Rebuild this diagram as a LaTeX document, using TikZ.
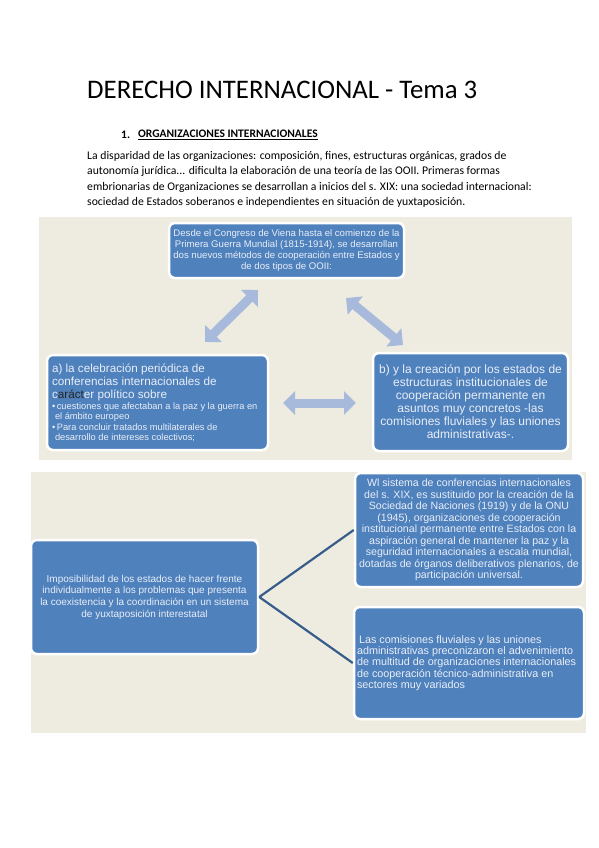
\documentclass[tikz,border=0pt]{standalone}
\usepackage{fontspec}
\setmainfont{Carlito}
\newfontfamily\boxfont{Liberation Sans}
\usepackage{tikz}
\usetikzlibrary{arrows.meta, positioning, calc}
\usepackage{xcolor}
\definecolor{panelbg}{RGB}{238,236,225}
\definecolor{boxblue}{RGB}{79,129,189}
\definecolor{boxtext}{RGB}{233,238,247}
\definecolor{arrowblue}{RGB}{167,186,219}
\definecolor{linkblue}{RGB}{56,93,138}

\tikzset{
  bluebox/.style={fill=boxblue, draw=white, line width=2.5pt, rounded corners=6pt,
    text=boxtext, inner sep=3pt},
  dblarrow/.style={draw=arrowblue, line width=9pt,
    {Triangle[length=12pt,width=23pt]}-{Triangle[length=12pt,width=23pt]}},
  vline/.style={draw=linkblue, line width=2.2pt}
}

\begin{document}
\begin{tikzpicture}[x=1pt, y=-1pt]
  \useasboundingbox (0,0) rectangle (599,848);
  \fill[white] (0,0) rectangle (599,848);

  % page text
  \node[anchor=west, inner sep=0, font=\fontsize{26.8}{31}\selectfont] (title) at (87,90)
    {DERECHO INTERNACIONAL - Tema 3};
  \node[anchor=west, inner sep=0, font=\fontsize{11.5}{14}\selectfont\bfseries] (num) at (121,135)
    {1.};
  \node[anchor=west, inner sep=0, font=\fontsize{11.5}{14}\selectfont\bfseries] (heading) at (138,135)
    {\underline{ORGANIZACIONES INTERNACIONALES}};
  \node[anchor=north west, inner sep=0, align=left, font=\fontsize{11.7}{15.5}\selectfont] (intro) at (87,151)
    {La disparidad de las organizaciones: composición, fines, estructuras orgánicas, grados de\\
     autonomía jurídica... dificulta la elaboración de una teoría de las OOII. Primeras formas\\
     embrionarias de Organizaciones se desarrollan a inicios del s. XIX: una sociedad internacional:\\
     sociedad de Estados soberanos e independientes en situación de yuxtaposición.};

  % first panel
  \fill[panelbg] (39,217) rectangle (572,460);
  \node[bluebox, minimum width=235pt, minimum height=55pt, align=center,
        font=\boxfont\fontsize{9.6}{11}\selectfont] (origen) at (286.5,250.5)
    {Desde el Congreso de Viena hasta el comienzo de la\\
     Primera Guerra Mundial (1815-1914), se desarrollan\\
     dos nuevos métodos de cooperación entre Estados y\\
     de dos tipos de OOII:};
  \node[bluebox, minimum width=221pt, minimum height=95pt,
        font=\boxfont\fontsize{11.7}{13}\selectfont] (conferencias) at (157.5,402.5)
    {\begin{minipage}{211pt}\raggedright
     a) la celebración periódica de\\
     conferencias internacionales de\\
     c{\color{black!85}aráct}er político sobre\par\vspace{1pt}
     \fontsize{9.3}{10}\selectfont
     \textbullet\,cuestiones que afectaban a la paz y la guerra en\\
     \hspace*{3pt}el ámbito europeo\par\vspace{1pt}
     \textbullet\,Para concluir tratados multilaterales de\\
     \hspace*{3pt}desarrollo de intereses colectivos;
     \end{minipage}};
  \node[bluebox, minimum width=195pt, minimum height=98pt, align=center,
        font=\boxfont\fontsize{12}{13}\selectfont] (estructuras) at (470.5,402)
    {b) y la creación por los estados de\\
     estructuras institucionales de\\
     cooperación permanente en\\
     asuntos muy concretos -las\\
     comisiones fluviales y las uniones\\
     administrativas-.};

  \coordinate (a1) at (258,290);
  \coordinate (a2) at (205,342);
  \coordinate (b1) at (346,298);
  \coordinate (b2) at (403,345);
  \coordinate (c1) at (283,403);
  \coordinate (c2) at (356,403);
  \draw[dblarrow] (a1) -- (a2);
  \draw[dblarrow] (b1) -- (b2);
  \draw[dblarrow] (c1) -- (c2);

  % second panel
  \fill[panelbg] (31,472) rectangle (586,733);
  \node[bluebox, minimum width=227pt, minimum height=114pt, align=center,
        font=\boxfont\fontsize{10}{11.7}\selectfont] (imposibilidad) at (144.5,597)
    {Imposibilidad de los estados de hacer frente\\
     individualmente a los problemas que presenta\\
     la coexistencia y la coordinación en un sistema\\
     de yuxtaposición interestatal};
  \node[bluebox, minimum width=228pt, minimum height=114pt, align=center,
        font=\boxfont\fontsize{10.6}{11.5}\selectfont] (sdn) at (469,530)
    {Wl sistema de conferencias internacionales\\
     del s. XIX, es sustituido por la creación de la\\
     Sociedad de Naciones (1919) y de la ONU\\
     (1945), organizaciones de cooperación\\
     institucional permanente entre Estados con la\\
     aspiración general de mantener la paz y la\\
     seguridad internacionales a escala mundial,\\
     dotadas de órganos deliberativos plenarios, de\\
     participación universal.};
  \node[bluebox, minimum width=228pt, minimum height=112pt,
        font=\boxfont\fontsize{10.8}{11.3}\selectfont] (comisiones) at (469,663)
    {\begin{minipage}{224pt}\raggedright
     \hspace*{2pt}Las comisiones fluviales y las uniones\\
     administrativas preconizaron el advenimiento\\
     de multitud de organizaciones internacionales\\
     de cooperación técnico-administrativa en\\
     sectores muy variados
     \end{minipage}};

  \draw[vline] (imposibilidad.east) -- (sdn.west);
  \draw[vline] (imposibilidad.east) -- (comisiones.west);
\end{tikzpicture}
\end{document}
